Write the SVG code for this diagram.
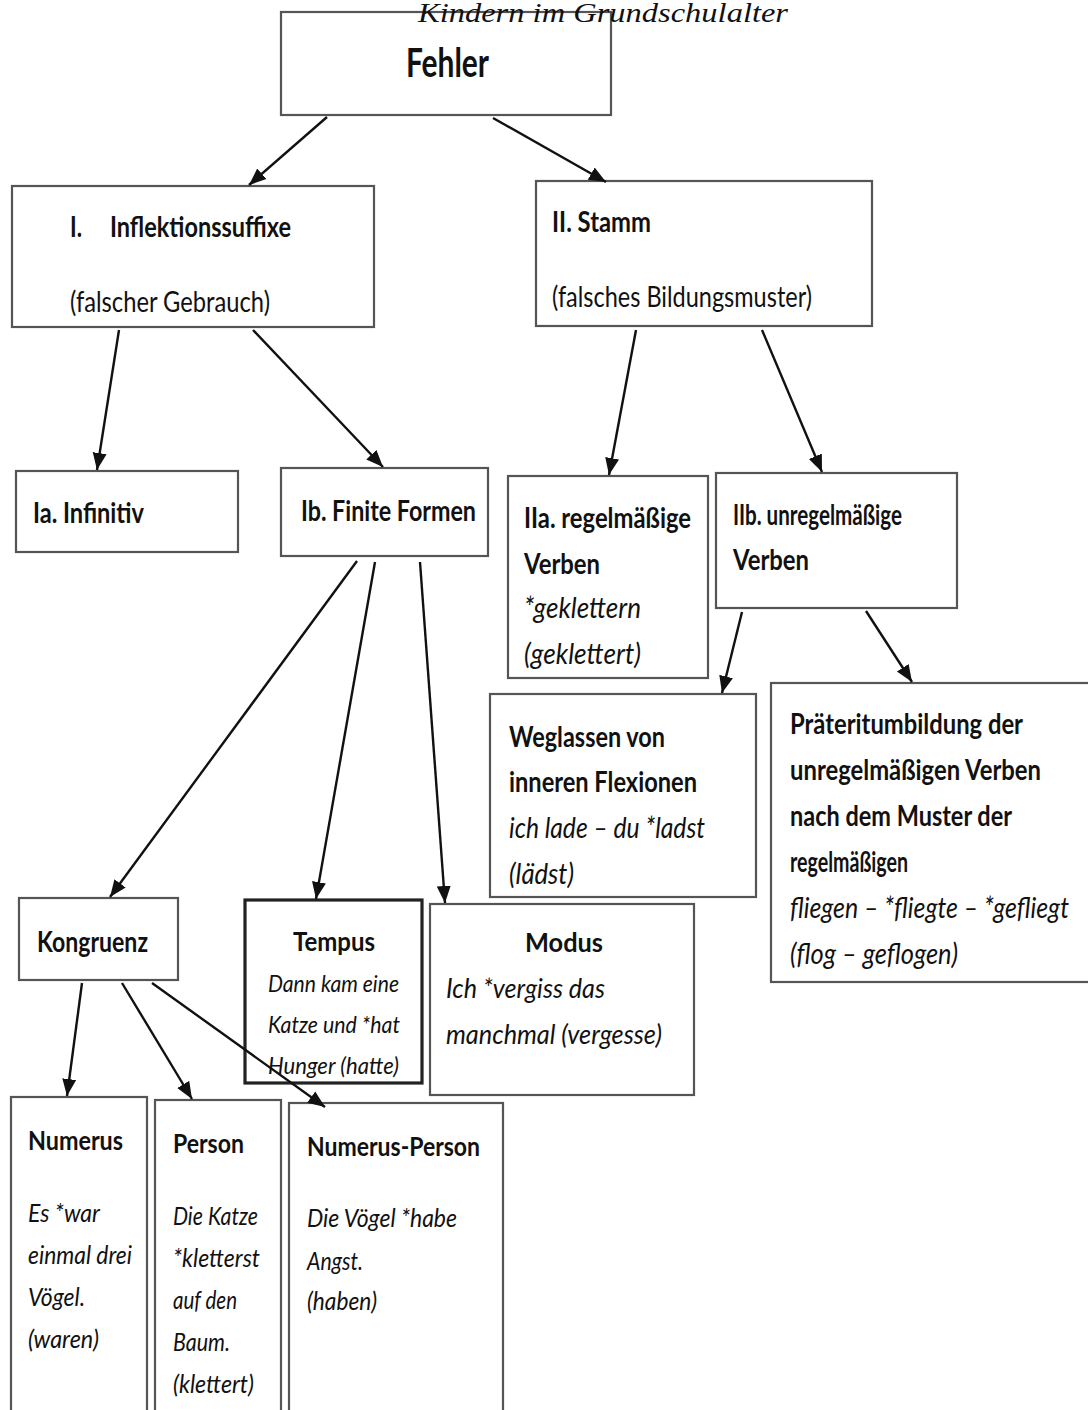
<svg xmlns="http://www.w3.org/2000/svg" width="1088" height="1410" viewBox="0 0 1088 1410">
<defs>
<style>
.box{fill:#fff;stroke:#555;stroke-width:2.2}
.thick{fill:#fff;stroke:#222;stroke-width:3.2}
.b{font-family:Lato,"Open Sans","Liberation Sans",sans-serif;font-weight:bold;fill:#111}
.r{font-family:Lato,"Open Sans","Liberation Sans",sans-serif;fill:#111}
.i{font-family:Lato,"Open Sans","Liberation Sans",sans-serif;font-style:italic;fill:#111}
.conn line{stroke:#111;stroke-width:2.4;marker-end:url(#ah)}
</style>
<marker id="ah" markerUnits="userSpaceOnUse" markerWidth="18" markerHeight="16" viewBox="0 0 18 16" refX="17" refY="8" orient="auto">
<path d="M0,1 L17,8 L0,15 z" fill="#111"/>
</marker>
</defs>
<rect width="1088" height="1410" fill="#fff"/>

<g id="fehler">
<rect class="box" x="281" y="12" width="330" height="103"/>
<text class="b" x="406" y="77" font-size="40" textLength="83" lengthAdjust="spacingAndGlyphs">Fehler</text>
</g>
<g id="caption">
<text x="418" y="22" font-family="'Liberation Serif',serif" font-style="italic" font-size="28" textLength="370" lengthAdjust="spacingAndGlyphs" fill="#111">Kindern im Grundschulalter</text>
</g>

<g id="inflektion">
<rect class="box" x="12" y="186" width="362" height="141"/>
<text class="b" x="70" y="237" font-size="28" textLength="12" lengthAdjust="spacingAndGlyphs">I.</text>
<text class="b" x="110" y="237" font-size="28" textLength="181" lengthAdjust="spacingAndGlyphs">Inflektionssuffixe</text>
<text class="r" x="70" y="312" font-size="28" textLength="200" lengthAdjust="spacingAndGlyphs">(falscher Gebrauch)</text>
</g>

<g id="stamm">
<rect class="box" x="536" y="181" width="336" height="145"/>
<text class="b" x="552" y="232" font-size="28" textLength="99" lengthAdjust="spacingAndGlyphs">II. Stamm</text>
<text class="r" x="552" y="307" font-size="28" textLength="260" lengthAdjust="spacingAndGlyphs">(falsches Bildungsmuster)</text>
</g>

<g id="infinitiv">
<rect class="box" x="16" y="471" width="222" height="81"/>
<text class="b" x="33" y="523" font-size="28" textLength="111" lengthAdjust="spacingAndGlyphs">Ia. Infinitiv</text>
</g>

<g id="finite">
<rect class="box" x="281" y="468" width="207" height="88"/>
<text class="b" x="301" y="521" font-size="28" textLength="175" lengthAdjust="spacingAndGlyphs">Ib. Finite Formen</text>
</g>

<g id="regelmaessig">
<rect class="box" x="508" y="476" width="200" height="202"/>
<text class="b" x="524" y="528" font-size="28" textLength="167" lengthAdjust="spacingAndGlyphs">IIa. regelmäßige</text>
<text class="b" x="524" y="574" font-size="28" textLength="76" lengthAdjust="spacingAndGlyphs">Verben</text>
<text class="i" x="524" y="618" font-size="28" textLength="117" lengthAdjust="spacingAndGlyphs">*geklettern</text>
<text class="i" x="524" y="664" font-size="28" textLength="117" lengthAdjust="spacingAndGlyphs">(geklettert)</text>
</g>

<g id="unregelmaessig">
<rect class="box" x="716" y="473" width="241" height="135"/>
<text class="b" x="733" y="525" font-size="28" textLength="169" lengthAdjust="spacingAndGlyphs">IIb. unregelmäßige</text>
<text class="b" x="733" y="570" font-size="28" textLength="76" lengthAdjust="spacingAndGlyphs">Verben</text>
</g>

<g id="weglassen">
<rect class="box" x="490" y="694" width="266" height="203"/>
<text class="b" x="509" y="747" font-size="28" textLength="156" lengthAdjust="spacingAndGlyphs">Weglassen von</text>
<text class="b" x="509" y="792" font-size="28" textLength="188" lengthAdjust="spacingAndGlyphs">inneren Flexionen</text>
<text class="i" x="509" y="838" font-size="28" textLength="196" lengthAdjust="spacingAndGlyphs">ich lade – du *ladst</text>
<text class="i" x="509" y="884" font-size="28" textLength="65" lengthAdjust="spacingAndGlyphs">(lädst)</text>
</g>

<g id="praeteritum">
<rect class="box" x="771" y="683" width="330" height="299"/>
<text class="b" x="790" y="734" font-size="28" textLength="233" lengthAdjust="spacingAndGlyphs">Präteritumbildung der</text>
<text class="b" x="790" y="780" font-size="28" textLength="251" lengthAdjust="spacingAndGlyphs">unregelmäßigen Verben</text>
<text class="b" x="790" y="826" font-size="28" textLength="222" lengthAdjust="spacingAndGlyphs">nach dem Muster der</text>
<text class="b" x="790" y="872" font-size="28" textLength="118" lengthAdjust="spacingAndGlyphs">regelmäßigen</text>
<text class="i" x="790" y="918" font-size="28" textLength="279" lengthAdjust="spacingAndGlyphs">fliegen – *fliegte – *gefliegt</text>
<text class="i" x="790" y="964" font-size="28" textLength="168" lengthAdjust="spacingAndGlyphs">(flog – geflogen)</text>
</g>

<g id="kongruenz">
<rect class="box" x="19" y="898" width="159" height="82"/>
<text class="b" x="37" y="952" font-size="28" textLength="111" lengthAdjust="spacingAndGlyphs">Kongruenz</text>
</g>

<g id="tempus">
<rect class="thick" x="245" y="900" width="177" height="183"/>
<text class="b" x="293" y="951" font-size="27" textLength="82" lengthAdjust="spacingAndGlyphs">Tempus</text>
<text class="i" x="268" y="992" font-size="24" textLength="131" lengthAdjust="spacingAndGlyphs">Dann kam eine</text>
<text class="i" x="268" y="1033" font-size="24" textLength="132" lengthAdjust="spacingAndGlyphs">Katze und *hat</text>
<text class="i" x="268" y="1074" font-size="24" textLength="131" lengthAdjust="spacingAndGlyphs">Hunger (hatte)</text>
</g>

<g id="modus">
<rect class="box" x="430" y="904" width="264" height="191"/>
<text class="b" x="525" y="952" font-size="27" textLength="78" lengthAdjust="spacingAndGlyphs">Modus</text>
<text class="i" x="446" y="998" font-size="27" textLength="159" lengthAdjust="spacingAndGlyphs">Ich *vergiss das</text>
<text class="i" x="446" y="1044" font-size="27" textLength="216" lengthAdjust="spacingAndGlyphs">manchmal (vergesse)</text>
</g>

<g id="numerus">
<rect class="box" x="11" y="1097" width="136" height="330"/>
<text class="b" x="28" y="1150" font-size="26" textLength="95" lengthAdjust="spacingAndGlyphs">Numerus</text>
<text class="i" x="28" y="1222" font-size="25" textLength="72" lengthAdjust="spacingAndGlyphs">Es *war</text>
<text class="i" x="28" y="1264" font-size="25" textLength="104" lengthAdjust="spacingAndGlyphs">einmal drei</text>
<text class="i" x="28" y="1306" font-size="25" textLength="57" lengthAdjust="spacingAndGlyphs">Vögel.</text>
<text class="i" x="28" y="1348" font-size="25" textLength="71" lengthAdjust="spacingAndGlyphs">(waren)</text>
</g>

<g id="person">
<rect class="box" x="155" y="1100" width="126" height="330"/>
<text class="b" x="173" y="1153" font-size="26" textLength="71" lengthAdjust="spacingAndGlyphs">Person</text>
<text class="i" x="173" y="1225" font-size="25" textLength="85" lengthAdjust="spacingAndGlyphs">Die Katze</text>
<text class="i" x="173" y="1267" font-size="25" textLength="87" lengthAdjust="spacingAndGlyphs">*kletterst</text>
<text class="i" x="173" y="1309" font-size="25" textLength="64" lengthAdjust="spacingAndGlyphs">auf den</text>
<text class="i" x="173" y="1351" font-size="25" textLength="57" lengthAdjust="spacingAndGlyphs">Baum.</text>
<text class="i" x="173" y="1393" font-size="25" textLength="81" lengthAdjust="spacingAndGlyphs">(klettert)</text>
</g>

<g id="numerus-person">
<rect class="box" x="289" y="1103" width="214" height="330"/>
<text class="b" x="307" y="1156" font-size="26" textLength="173" lengthAdjust="spacingAndGlyphs">Numerus-Person</text>
<text class="i" x="307" y="1227" font-size="25" textLength="150" lengthAdjust="spacingAndGlyphs">Die Vögel *habe</text>
<text class="i" x="307" y="1270" font-size="25" textLength="56" lengthAdjust="spacingAndGlyphs">Angst.</text>
<text class="i" x="307" y="1310" font-size="25" textLength="70" lengthAdjust="spacingAndGlyphs">(haben)</text>
</g>

<g id="connectors" class="conn">
<line x1="327" y1="117" x2="249" y2="185"/>
<line x1="493" y1="118" x2="606" y2="182"/>
<line x1="119" y1="330" x2="97" y2="470"/>
<line x1="253" y1="330" x2="383" y2="467"/>
<line x1="636" y1="330" x2="609" y2="475"/>
<line x1="762" y1="330" x2="822" y2="472"/>
<line x1="742" y1="612" x2="722" y2="693"/>
<line x1="866" y1="611" x2="912" y2="682"/>
<line x1="357" y1="561" x2="110" y2="897"/>
<line x1="375" y1="562" x2="316" y2="899"/>
<line x1="420" y1="562" x2="445" y2="903"/>
<line x1="82" y1="983" x2="67" y2="1096"/>
<line x1="122" y1="983" x2="192" y2="1099"/>
<line x1="152" y1="983" x2="325" y2="1107"/>
</g>
</svg>
